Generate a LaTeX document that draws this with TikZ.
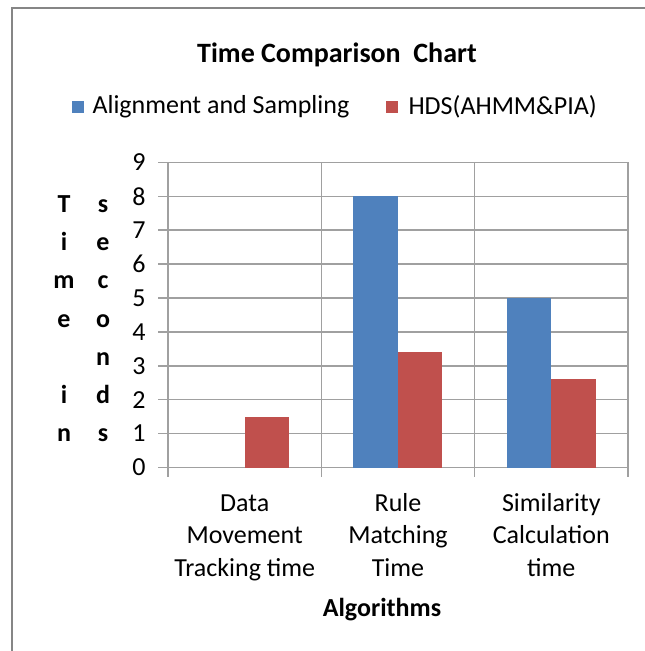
\documentclass[tikz,border=0pt]{standalone}
\usepackage{fontspec}
\setmainfont{Carlito}
\usetikzlibrary{positioning}

\definecolor{serblue}{RGB}{79,129,189}
\definecolor{serred}{RGB}{192,80,77}
\definecolor{gridgray}{RGB}{160,160,160}
\definecolor{framegray}{RGB}{134,134,134}

\tikzset{every picture/.style={line width=0.75pt}}
\tikzset{
  txt/.style={inner sep=0pt, font=\fontsize{19.5}{24}\selectfont},
  boldtxt/.style={txt, font=\fontsize{19.5}{24}\selectfont\bfseries},
  catlabel/.style={txt, align=center, anchor=north, font=\fontsize{19.5}{24.4}\selectfont},
  gridline/.style={draw=gridgray, line width=1.1pt},
  bluebar/.style={fill=serblue, draw=none},
  redbar/.style={fill=serred, draw=none},
}

\begin{document}
\begin{tikzpicture}[x=0.75pt,y=0.75pt,yscale=-1,xscale=1]
	\useasboundingbox (0,0) rectangle (645,651);

	%Frame
	\draw [draw=framegray, line width=1.5pt] (12,651) -- (12,8) -- (645,8) ;

	%Grid lines (value v sits at y = 467.5 - 33.9 v)
	\foreach \v in {1,...,9}
		\draw [gridline] (158,{467.5-33.9*\v}) -- (628,{467.5-33.9*\v}) ;
	\draw [gridline] (158,467.5) -- (628,467.5) ;
	\draw [gridline] (168,162.4) -- (168,477) ;
	\foreach \gx in {321.3,474.7,628}
		\draw [gridline] (\gx,162.4) -- (\gx,477) ;

	%Bars
	\draw [redbar]  (244.6,{467.5-33.9*1.5}) rectangle (289.2,467.5) ;
	\draw [bluebar] (353.3,{467.5-33.9*8}) rectangle (397.8,467.5) ;
	\draw [redbar]  (397.8,{467.5-33.9*3.4}) rectangle (442.3,467.5) ;
	\draw [bluebar] (506.7,{467.5-33.9*5}) rectangle (551.2,467.5) ;
	\draw [redbar]  (551.2,{467.5-33.9*2.6}) rectangle (595.7,467.5) ;

	% Tick labels
	\foreach \v in {0,...,9}
		\node [txt, anchor=east] (tick\v) at (146,{467.5-33.9*\v}) {\v};

	% Text Node
	\node [txt, font=\fontsize{21}{26}\selectfont\bfseries] (title) at (337,55) {Time Comparison\ \ Chart};

	%Legend
	\draw [bluebar] (72,101) rectangle (84,113) ;
	\node [txt, anchor=west] (legA) at (92,107) {Alignment and Sampling};
	\draw [redbar] (386,101) rectangle (398,113) ;
	\node [txt, anchor=west] (legB) at (408,107) {HDS(AHMM\&PIA)};

	% Axis title, stacked letters
	\foreach \ch/\r in {T/0,i/1,m/2,e/3,i/5,n/6}
		\node [boldtxt, anchor=base] (ttl\r) at (64,{212.5+38.2*\r}) {\ch};
	\foreach \ch/\r in {s/0,e/1,c/2,o/3,n/4,d/5,s/6}
		\node [boldtxt, anchor=base] (sec\r) at (103,{212.5+38.2*\r}) {\ch};

	% Category labels
	\node [catlabel] (catA) at (244.7,488) {\strut Data\\\strut Movement\\\strut Tracking time};
	\node [catlabel] (catB) at (398,488) {\strut Rule\\\strut Matching\\\strut Time};
	\node [catlabel] (catC) at (551.3,488) {\strut Similarity\\\strut Calculation\\\strut time};

	% Text Node
	\node [boldtxt] (xlabel) at (382,610) {Algorithms};

\end{tikzpicture}
\end{document}
